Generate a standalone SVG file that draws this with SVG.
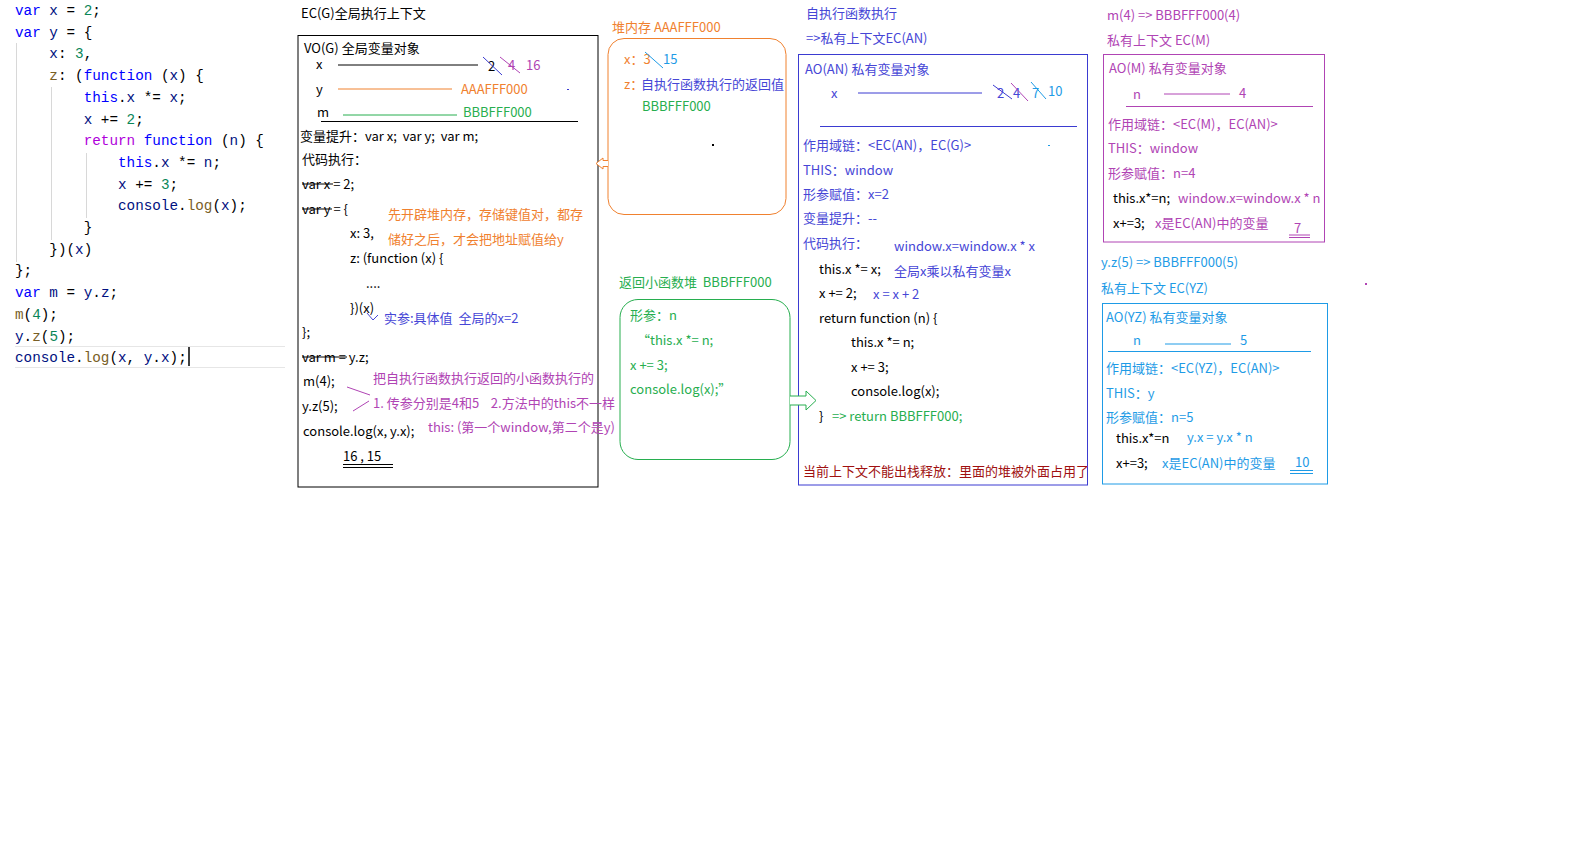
<svg xmlns="http://www.w3.org/2000/svg" width="1588" height="844" viewBox="0 0 1588 844">
<style>
.t{font-family:"Noto Sans CJK SC","Noto Sans",sans-serif;font-size:13px;white-space:pre}
.c{font-family:"Liberation Mono","DejaVu Sans Mono",monospace;font-size:14.3px;white-space:pre;fill:#000}
.kw{fill:#0000ff}.id{fill:#001080}.nm{fill:#098658}.rt{fill:#af00db}.fn{fill:#795e26}
.k{fill:#000}.o{fill:#f0812f}.g{fill:#27ae4f}.p{fill:#b044b4}.b{fill:#4646d6}.cy{fill:#1e9be6}.r{fill:#a01010}
.guide{stroke:#d8d8d8;stroke-width:1}
</style>
<rect width="1588" height="844" fill="#fff"/>

<g id="code">
<line class="guide" x1="16.5" y1="43" x2="16.5" y2="262"/>
<line class="guide" x1="51.5" y1="87" x2="51.5" y2="240"/>
<line class="guide" x1="86.5" y1="153" x2="86.5" y2="218"/>
<line x1="15" y1="346.5" x2="285" y2="346.5" stroke="#e6e6e6"/>
<line x1="15" y1="367.5" x2="285" y2="367.5" stroke="#e6e6e6"/>
<line x1="189" y1="347" x2="189" y2="366" stroke="#000" stroke-width="1.5"/>
<text class="c" x="15" y="15"><tspan class="kw">var</tspan> <tspan class="id">x</tspan> = <tspan class="nm">2</tspan>;</text>
<text class="c" x="15" y="36.7"><tspan class="kw">var</tspan> <tspan class="id">y</tspan> = {</text>
<text class="c" x="15" y="58.4">    <tspan class="id">x</tspan>: <tspan class="nm">3</tspan>,</text>
<text class="c" x="15" y="80.1">    <tspan class="fn">z</tspan>: (<tspan class="kw">function</tspan> (<tspan class="id">x</tspan>) {</text>
<text class="c" x="15" y="101.8">        <tspan class="kw">this</tspan>.<tspan class="id">x</tspan> *= <tspan class="id">x</tspan>;</text>
<text class="c" x="15" y="123.5">        <tspan class="id">x</tspan> += <tspan class="nm">2</tspan>;</text>
<text class="c" x="15" y="145.2">        <tspan class="rt">return</tspan> <tspan class="kw">function</tspan> (<tspan class="id">n</tspan>) {</text>
<text class="c" x="15" y="166.9">            <tspan class="kw">this</tspan>.<tspan class="id">x</tspan> *= <tspan class="id">n</tspan>;</text>
<text class="c" x="15" y="188.6">            <tspan class="id">x</tspan> += <tspan class="nm">3</tspan>;</text>
<text class="c" x="15" y="210.3">            <tspan class="id">console</tspan>.<tspan class="fn">log</tspan>(<tspan class="id">x</tspan>);</text>
<text class="c" x="15" y="232">        }</text>
<text class="c" x="15" y="253.7">    })(<tspan class="id">x</tspan>)</text>
<text class="c" x="15" y="275.4">};</text>
<text class="c" x="15" y="297.1"><tspan class="kw">var</tspan> <tspan class="id">m</tspan> = <tspan class="id">y</tspan>.<tspan class="id">z</tspan>;</text>
<text class="c" x="15" y="318.8"><tspan class="fn">m</tspan>(<tspan class="nm">4</tspan>);</text>
<text class="c" x="15" y="340.5"><tspan class="id">y</tspan>.<tspan class="fn">z</tspan>(<tspan class="nm">5</tspan>);</text>
<text class="c" x="15" y="362.2"><tspan class="id">console</tspan>.<tspan class="fn">log</tspan>(<tspan class="id">x</tspan>, <tspan class="id">y</tspan>.<tspan class="id">x</tspan>);</text>
</g>

<g id="ecg">
<text class="t k" x="301" y="18">EC(G)全局执行上下文</text>
<rect x="298" y="35.5" width="300" height="451.5" fill="none" stroke="#000"/>
<text class="t k" x="304" y="53">VO(G) 全局变量对象</text>
<text class="t k" x="316" y="69">x</text>
<line x1="338" y1="65" x2="478" y2="65" stroke="#000"/>
<text class="t k" x="488" y="71">2</text>
<line x1="483" y1="57" x2="502" y2="75" stroke="#3b3bd1"/>
<text class="t p" x="508" y="70">4</text>
<line x1="500" y1="57" x2="520" y2="73" stroke="#b044b4"/>
<text class="t p" x="526" y="70">16</text>
<text class="t k" x="316" y="94">y</text>
<line x1="338" y1="89" x2="452" y2="89" stroke="#f0812f"/>
<text class="t o" x="461" y="94">AAAFFF000</text>
<rect x="567" y="89" width="2" height="1" fill="#3b3bd1"/>
<text class="t k" x="317" y="117">m</text>
<line x1="343" y1="115" x2="457" y2="115" stroke="#27ae4f"/>
<text class="t g" x="463" y="117">BBBFFF000</text>
<line x1="321" y1="121.5" x2="578" y2="121.5" stroke="#000"/>
<text class="t k" x="300" y="141">变量提升：var x;  var y;  var m;</text>
<text class="t k" x="302" y="164">代码执行：</text>
<text class="t k" x="302" y="189">var x = 2;</text>
<line x1="302" y1="184" x2="333" y2="184" stroke="#000"/>
<text class="t k" x="302" y="214">var y = {</text>
<line x1="302" y1="209" x2="332" y2="209" stroke="#000"/>
<text class="t o" x="388" y="219">先开辟堆内存，存储键值对，都存</text>
<text class="t o" x="388" y="244">储好之后，才会把地址赋值给y</text>
<text class="t k" x="350" y="238">x: 3,</text>
<text class="t k" x="350" y="263">z: (function (x) {</text>
<text class="t k" x="366" y="288">....</text>
<text class="t k" x="350" y="313">})(x)</text>
<polyline points="367,313 373,320 378,315" fill="none" stroke="#4646d6"/>
<text class="t b" x="384" y="323">实参:具体值  全局的x=2</text>
<text class="t k" x="302" y="337">};</text>
<text class="t k" x="302" y="362">var m = y.z;</text>
<line x1="302" y1="357" x2="347" y2="357" stroke="#000"/>
<text class="t k" x="303" y="386">m(4);</text>
<text class="t k" x="302" y="411">y.z(5);</text>
<line x1="347" y1="387" x2="370" y2="395" stroke="#b044b4"/>
<line x1="353" y1="411" x2="369" y2="401" stroke="#b044b4"/>
<text class="t p" x="373" y="383">把自执行函数执行返回的小函数执行的</text>
<text class="t p" x="373" y="408">1. 传参分别是4和5    2.方法中的this不一样</text>
<text class="t p" x="428" y="432">this: (第一个window,第二个是y)</text>
<text class="t k" x="303" y="436">console.log(x, y.x);</text>
<text class="t k" x="343" y="461">16 , 15</text>
<line x1="343" y1="464.5" x2="393" y2="464.5" stroke="#000"/>
<line x1="343" y1="467.5" x2="393" y2="467.5" stroke="#000"/>
</g>

<g id="heap">
<text class="t o" x="612" y="32">堆内存 AAAFFF000</text>
<rect x="608" y="38.5" width="178" height="176" rx="16" fill="none" stroke="#f0812f"/>
<text class="t o" x="624" y="64">x：3</text>
<line x1="645" y1="52" x2="663" y2="68" stroke="#1e9be6"/>
<text class="t cy" x="663" y="64">15</text>
<text class="t o" x="624" y="89">z：</text>
<text class="t b" x="641" y="89">自执行函数执行的返回值</text>
<text class="t g" x="642" y="111">BBBFFF000</text>
<rect x="712" y="144" width="2" height="2" fill="#000"/>
</g>

<g id="fnheap">
<text class="t g" x="619" y="287">返回小函数堆  BBBFFF000</text>
<rect x="620" y="299.5" width="170" height="160" rx="18" fill="none" stroke="#27ae4f"/>
<text class="t g" x="630" y="320">形参：n</text>
<text class="t g" x="637" y="345">“this.x *= n;</text>
<text class="t g" x="630" y="370">x += 3;</text>
<text class="t g" x="630" y="394">console.log(x);”</text>
</g>

<g id="ecan">
<text class="t b" x="806" y="18">自执行函数执行</text>
<text class="t b" x="806" y="43">=&gt;私有上下文EC(AN)</text>
<rect x="798.5" y="54.5" width="289" height="430.5" fill="none" stroke="#3b3bd1"/>
<text class="t b" x="805" y="74">AO(AN) 私有变量对象</text>
<text class="t b" x="831" y="98">x</text>
<line x1="858" y1="93" x2="982" y2="93" stroke="#3b3bd1"/>
<text class="t b" x="997" y="98">2</text>
<line x1="993" y1="85" x2="1012" y2="99" stroke="#3b3bd1"/>
<text class="t b" x="1013" y="98">4</text>
<line x1="1011" y1="83" x2="1028" y2="101" stroke="#b044b4"/>
<text class="t cy" x="1032" y="98">7</text>
<line x1="1031" y1="82" x2="1046" y2="99" stroke="#1e9be6"/>
<text class="t cy" x="1048" y="96">10</text>
<line x1="820" y1="126.5" x2="1077" y2="126.5" stroke="#3b3bd1"/>
<text class="t b" x="803" y="150">作用域链：&lt;EC(AN)，EC(G)&gt;</text>
<rect x="1048" y="145" width="2" height="1" fill="#1e9be6"/>
<text class="t b" x="803" y="175">THIS：window</text>
<text class="t b" x="803" y="199">形参赋值：x=2</text>
<text class="t b" x="803" y="223">变量提升：--</text>
<text class="t b" x="803" y="248">代码执行：</text>
<text class="t b" x="894" y="251">window.x=window.x * x</text>
<text class="t k" x="819" y="274">this.x *= x;</text>
<text class="t b" x="894" y="276">全局x乘以私有变量x</text>
<text class="t k" x="819" y="298">x += 2;</text>
<text class="t b" x="873" y="299">x = x + 2</text>
<text class="t k" x="819" y="323">return function (n) {</text>
<text class="t k" x="851" y="347">this.x *= n;</text>
<text class="t k" x="851" y="372">x += 3;</text>
<text class="t k" x="851" y="396">console.log(x);</text>
<text class="t k" x="819" y="421">}</text>
<text class="t g" x="829" y="421"> =&gt; return BBBFFF000;</text>
<text class="t r" x="803" y="476">当前上下文不能出栈释放：里面的堆被外面占用了</text>
</g>

<g id="ecm">
<text class="t p" x="1107" y="20">m(4) =&gt; BBBFFF000(4)</text>
<text class="t p" x="1107" y="45">私有上下文 EC(M)</text>
<rect x="1103.5" y="54.5" width="221" height="187.5" fill="none" stroke="#b044b4"/>
<text class="t p" x="1109" y="73">AO(M) 私有变量对象</text>
<text class="t p" x="1133" y="99">n</text>
<line x1="1164" y1="94" x2="1230" y2="94" stroke="#b044b4"/>
<text class="t p" x="1239" y="98">4</text>
<line x1="1126" y1="106.5" x2="1313" y2="106.5" stroke="#b044b4"/>
<text class="t p" x="1108" y="129">作用域链：&lt;EC(M)，EC(AN)&gt;</text>
<text class="t p" x="1108" y="153">THIS：window</text>
<text class="t p" x="1108" y="178">形参赋值：n=4</text>
<text class="t k" x="1113" y="203">this.x*=n;</text>
<text class="t p" x="1178" y="203">window.x=window.x * n</text>
<text class="t k" x="1113" y="228">x+=3;</text>
<text class="t p" x="1155" y="228">x是EC(AN)中的变量</text>
<text class="t p" x="1294" y="233">7</text>
<line x1="1289" y1="235" x2="1310" y2="235" stroke="#b044b4"/>
<line x1="1289" y1="237.5" x2="1310" y2="237.5" stroke="#b044b4"/>
</g>

<g id="ecyz">
<text class="t cy" x="1101" y="267">y.z(5) =&gt; BBBFFF000(5)</text>
<text class="t cy" x="1101" y="293">私有上下文 EC(YZ)</text>
<rect x="1102.5" y="303.5" width="225" height="180.5" fill="none" stroke="#1e9be6"/>
<text class="t cy" x="1106" y="322">AO(YZ) 私有变量对象</text>
<text class="t cy" x="1133" y="345">n</text>
<line x1="1165" y1="344" x2="1231" y2="344" stroke="#1e9be6"/>
<text class="t cy" x="1240" y="345">5</text>
<line x1="1108" y1="351.5" x2="1311" y2="351.5" stroke="#1e9be6"/>
<text class="t cy" x="1106" y="373">作用域链：&lt;EC(YZ)，EC(AN)&gt;</text>
<text class="t cy" x="1106" y="398">THIS：y</text>
<text class="t cy" x="1106" y="422">形参赋值：n=5</text>
<text class="t k" x="1116" y="443">this.x*=n</text>
<text class="t cy" x="1187" y="442">y.x = y.x * n</text>
<text class="t k" x="1116" y="468">x+=3;</text>
<text class="t cy" x="1162" y="468">x是EC(AN)中的变量</text>
<text class="t cy" x="1295" y="467">10</text>
<line x1="1290" y1="470.5" x2="1313" y2="470.5" stroke="#1e9be6"/>
<line x1="1290" y1="473.5" x2="1313" y2="473.5" stroke="#1e9be6"/>
</g>

<g id="connectors">
<path d="M608,160.5 H603 V158 L596,163.5 L603,169 V166.5 H608" fill="#fff" stroke="#f0812f"/>
<path d="M790,396 H806 V391 L816,400.5 L806,410 V405 H790" fill="#fff" stroke="#27ae4f"/>
<rect x="1365" y="283" width="2" height="2" fill="#b044b4"/>
</g>
</svg>
